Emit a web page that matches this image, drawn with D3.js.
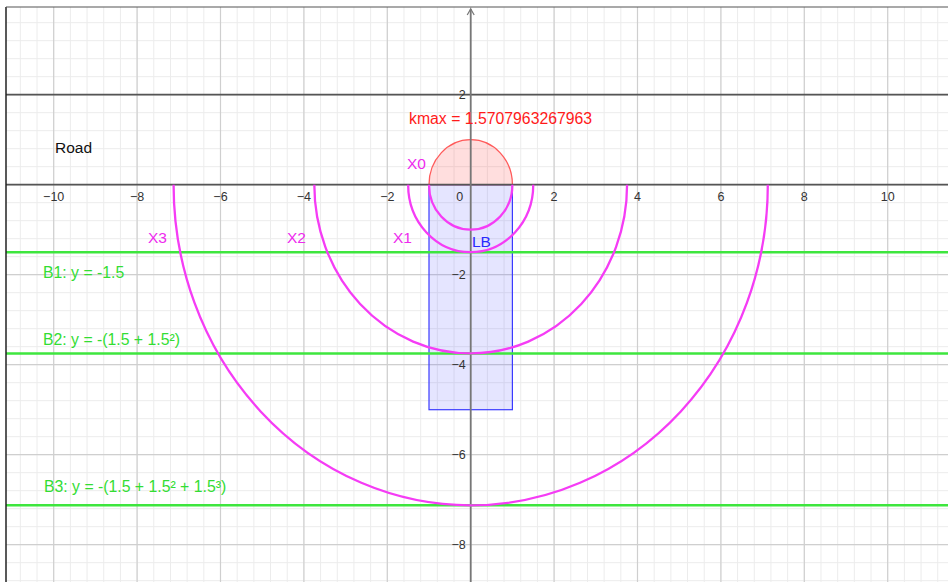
<!DOCTYPE html>
<html>
<head>
<meta charset="utf-8">
<script src="https://cdn.jsdelivr.net/npm/d3@7"></script>
<style>
  html, body { margin: 0; padding: 0; background: #fff; }
  svg { display: block; font-family: Arial, "Liberation Sans", sans-serif; }
</style>
</head>
<body>
<svg id="chart" width="948" height="582"></svg>
<script>
// ---- data ----
const xTicks = [-10, -8, -6, -4, -2, 0, 2, 4, 6, 8, 10];
const yTicks = [2, -2, -4, -6, -8];
const roadY = [0, 2];
const circleRadius = 1;                   // red cap
const arcNames = ["X0", "X1", "X2", "X3"];
const arcRadii = [1, 1.5, 3.75, 7.125];
const boundaryNames = ["B1: y = -1.5", "B2: y = -(1.5 + 1.5²)", "B3: y = -(1.5 + 1.5² + 1.5³)"];
const boundaryValues = [-1.5, -3.75, -7.125];
const boxX = [-1, 1];
const boxY = [0, -5];
const kmaxLabel = "kmax = 1.5707963267963";

// ---- layout ----
const W = 948, H = 582;
const ox = 470.7, oy = 184.7, sx = 41.7, sy = 45;
const x = d3.scaleLinear().domain([-ox / sx, (W - ox) / sx]).range([0, W]);
const y = d3.scaleLinear().domain([oy / sy, -(H - oy) / sy]).range([0, H]);
const plot = { left: 6, top: 7 };

const svg = d3.select("#chart");
svg.append("defs").append("clipPath").attr("id", "clip")
  .append("rect").attr("x", plot.left).attr("y", plot.top)
  .attr("width", W - plot.left).attr("height", H - plot.top);

const g = svg.append("g").attr("clip-path", "url(#clip)");

// grid
const minorX = d3.range(-11.2, 11.6, 0.4).map(v => +v.toFixed(1));
const minorY = d3.range(-8.8, 4.2, 0.4).map(v => +v.toFixed(1));
g.selectAll(".mx").data(minorX).join("line")
  .attr("x1", d => x(d)).attr("x2", d => x(d)).attr("y1", 0).attr("y2", H)
  .attr("stroke", "#ececec").attr("stroke-width", 1);
g.selectAll(".my").data(minorY).join("line")
  .attr("y1", d => y(d)).attr("y2", d => y(d)).attr("x1", 0).attr("x2", W)
  .attr("stroke", "#ececec").attr("stroke-width", 1);
const majorX = d3.range(-10, 12, 2);
const majorY = d3.range(-8, 6, 2);
g.selectAll(".Mx").data(majorX).join("line")
  .attr("x1", d => x(d)).attr("x2", d => x(d)).attr("y1", 0).attr("y2", H)
  .attr("stroke", "#cfcfcf").attr("stroke-width", 1.2);
g.selectAll(".My").data(majorY).join("line")
  .attr("y1", d => y(d)).attr("y2", d => y(d)).attr("x1", 0).attr("x2", W)
  .attr("stroke", "#cfcfcf").attr("stroke-width", 1.2);

// road line at y=2
g.append("line").attr("x1", 0).attr("x2", W).attr("y1", y(roadY[1])).attr("y2", y(roadY[1]))
  .attr("stroke", "#555").attr("stroke-width", 1.8);

// blue box LB
g.append("rect")
  .attr("x", x(boxX[0])).attr("y", y(boxY[0]))
  .attr("width", x(boxX[1]) - x(boxX[0])).attr("height", y(boxY[1]) - y(boxY[0]))
  .attr("fill", "rgba(80,80,255,0.15)").attr("stroke", "#3a3aff").attr("stroke-width", 1.2);

// red cap (upper half disc)
const rx0 = x(circleRadius) - x(0), ry0 = y(0) - y(circleRadius);
g.append("path")
  .attr("d", `M${x(-circleRadius)},${y(0)} A${rx0},${ry0} 0 0 1 ${x(circleRadius)},${y(0)} Z`)
  .attr("fill", "rgba(255,60,60,0.17)").attr("stroke", "#ff5a5a").attr("stroke-width", 1.3);

// axes
g.append("line").attr("x1", 0).attr("x2", W).attr("y1", y(0)).attr("y2", y(0))
  .attr("stroke", "#555").attr("stroke-width", 1.8);
g.append("line").attr("x1", x(0)).attr("x2", x(0)).attr("y1", 9).attr("y2", H)
  .attr("stroke", "#777").attr("stroke-width", 1.8);
g.append("path").attr("d", `M${x(0) - 3.5},${15} L${x(0)},${9} L${x(0) + 3.5},${15}`)
  .attr("fill", "none").attr("stroke", "#777").attr("stroke-width", 1.2);

// boundaries
g.selectAll(".bnd").data(boundaryValues).join("line")
  .attr("x1", 0).attr("x2", W).attr("y1", d => y(d)).attr("y2", d => y(d))
  .attr("stroke", "#3ee63e").attr("stroke-width", 2.5);

// magenta semicircles (lower halves)
g.selectAll(".arc").data(arcRadii).join("path")
  .attr("d", r => {
    const rx = x(r) - x(0), ry = y(-r) - y(0);
    return `M${x(-r)},${y(0)} A${rx},${ry} 0 0 0 ${x(r)},${y(0)}`;
  })
  .attr("fill", "none").attr("stroke", "#f53cf5").attr("stroke-width", 2.3);

// tick labels
const tickFont = 12.5, tickColor = "#333";
g.selectAll(".xt").data(xTicks).join("text")
  .attr("x", d => d === 0 ? x(0) - 11 : x(d))
  .attr("y", y(0) + 16)
  .attr("text-anchor", "middle").attr("font-size", tickFont).attr("fill", tickColor)
  .text(d => d < 0 ? "\u2212" + Math.abs(d) : d);
g.selectAll(".yt").data(yTicks).join("text")
  .attr("x", x(0) - 5).attr("y", d => y(d) + 4.5)
  .attr("text-anchor", "end").attr("font-size", tickFont).attr("fill", tickColor)
  .text(d => d < 0 ? "\u2212" + Math.abs(d) : d);

// labels
g.append("text").attr("x", 409).attr("y", 124).attr("font-size", 15.8).attr("fill", "#ff1a1a").text(kmaxLabel);
g.append("text").attr("x", 55).attr("y", 153).attr("font-size", 15.5).attr("fill", "#111").text("Road");
const arcLabelPos = [[407, 169], [393, 243], [287, 243], [148, 243]];
g.selectAll(".al").data(arcNames).join("text")
  .attr("x", (d, i) => arcLabelPos[i][0]).attr("y", (d, i) => arcLabelPos[i][1])
  .attr("font-size", 15.5).attr("fill", "#ee2aee").text(d => d);
g.append("text").attr("x", 472).attr("y", 247).attr("font-size", 15.5).attr("fill", "#2a2aff").text("LB");
const bLabelY = [278, 345, 492];
g.selectAll(".bl").data(boundaryNames).join("text")
  .attr("x", (d, i) => i === 2 ? 44 : 43).attr("y", (d, i) => bLabelY[i])
  .attr("font-size", 15.8).attr("fill", "#33dd33").text(d => d);

// frame
svg.append("line").attr("x1", plot.left).attr("x2", plot.left).attr("y1", plot.top).attr("y2", H)
  .attr("stroke", "#222").attr("stroke-width", 1.5);
svg.append("line").attr("x1", plot.left).attr("x2", W).attr("y1", plot.top).attr("y2", plot.top)
  .attr("stroke", "#555").attr("stroke-width", 1.2);
</script>
</body>
</html>
